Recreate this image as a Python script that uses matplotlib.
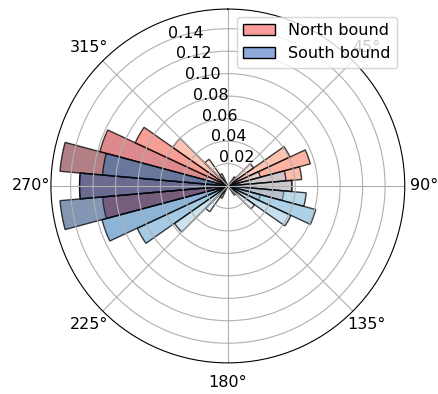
import numpy as np
import matplotlib
matplotlib.use("Agg")
import matplotlib.pyplot as plt
from matplotlib.patches import Patch

# Direction bins (degrees, compass) and share of trips for each travel direction
north_dirs = [40, 50, 60, 70, 80, 90, 100, 110, 250, 260, 270, 280, 290, 300, 310, 320, 330]
north_vals = [0.010, 0.028, 0.061, 0.076, 0.066, 0.057, 0.050, 0.030,
              0.020, 0.112, 0.132, 0.150, 0.118, 0.091, 0.060, 0.029, 0.012]

south_dirs = [70, 80, 90, 100, 110, 120, 130, 140, 210, 220, 230, 240, 250, 260, 270, 280, 290]
south_vals = [0.030, 0.052, 0.057, 0.070, 0.081, 0.062, 0.029, 0.010,
              0.012, 0.028, 0.058, 0.089, 0.116, 0.150, 0.132, 0.112, 0.020]

series_labels = ["North bound", "South bound"]
theta_ticks = [45, 90, 135, 180, 225, 270, 315]
bin_width_deg = 10

plt.rcParams["font.size"] = 11.5

fig = plt.figure(figsize=(4.39, 3.94), dpi=100)
ax = fig.add_axes([0.116, 0.079, 0.806, 0.898], projection="polar")
ax.set_theta_zero_location("N")
ax.set_theta_direction(-1)


def draw_rose(dirs, vals, cmap):
    vals = np.asarray(vals)
    theta = np.deg2rad(dirs)
    colors = cmap(vals / vals.max())
    colors[:, 3] = 0.5
    ax.bar(theta, vals, width=np.deg2rad(bin_width_deg), bottom=0.0,
           color=colors, edgecolor=(0, 0, 0, 0.75), linewidth=1.0)


draw_rose(north_dirs, north_vals, plt.cm.Reds)
draw_rose(south_dirs, south_vals, plt.cm.Blues)

rmax = 1.05 * max(max(north_vals), max(south_vals))
ax.set_ylim(0, rmax)
rticks = np.arange(0.02, 0.15, 0.02)
ax.set_yticks(rticks)
ax.set_yticklabels([f"{t:.2f}" for t in rticks])
ax.set_rlabel_position(337.5)

# 0° gridline kept, its label sits above the canvas so it is left blank
ax.set_xticks(np.deg2rad([0] + theta_ticks))
ax.set_xticklabels([""] + [f"{t}°" for t in theta_ticks])

handles = [Patch(facecolor="#fc9c9c", edgecolor="k", label=series_labels[0]),
           Patch(facecolor="#8eaadb", edgecolor="k", label=series_labels[1])]
ax.legend(handles=handles, loc="upper right")

fig.savefig("out.png", dpi=100)
